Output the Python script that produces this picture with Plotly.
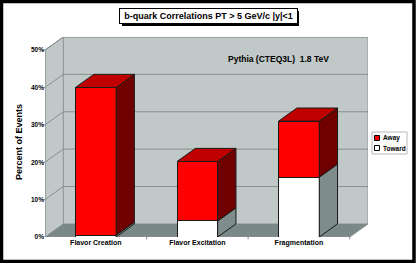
import plotly.graph_objects as go

categories = ["Flavor Creation", "Flavor Excitation", "Fragmentation"]
toward = [0.5, 4.3, 16.0]
away = [39.5, 15.9, 15.0]
series_names = ["Away", "Toward"]
y_ticks = [0, 10, 20, 30, 40, 50]
y_tick_labels = ["0%", "10%", "20%", "30%", "40%", "50%"]

W, H = 416, 263
ML, MR, MT, MB = 45, 48, 37, 26
PW, PH = W - ML - MR, H - MT - MB
DX, DY = 0.18, 3.5           # 3-D depth offset in data units
XMIN, XMAX = -0.5, 2.5 + DX
YMAX = 50 + DY
HW = 0.2                      # half bar width

WALL = "#c0c8c8"
FLOOR = "#7a8888"
RED = "#ff0000"
RED_TOP = "#c00000"
RED_SIDE = "#700000"
WHITE_SIDE = "#7e8c8c"
EDGE = "#1a1a1a"
FONT = "Liberation Sans"

xs = list(range(len(categories)))

fig = go.Figure()
fig.add_trace(go.Bar(x=xs, y=toward, name="Toward", width=2 * HW, showlegend=False,
                     marker=dict(color="white", line=dict(color=EDGE, width=1))))
fig.add_trace(go.Bar(x=xs, y=away, name="Away", width=2 * HW, showlegend=False,
                     marker=dict(color=RED, line=dict(color=EDGE, width=1))))

def px_x(p): return (p - ML) / PW
def px_y(p): return (H - MB - p) / PH

shapes = []
def poly(pts, fill, line=None, layer="below", lw=1):
    d = "M " + " L ".join(f"{x},{y}" for x, y in pts) + " Z"
    shapes.append(dict(type="path", path=d, xref="x", yref="y", fillcolor=fill,
                       line=dict(color=line if line else fill, width=lw if line else 0),
                       layer=layer))
def seg(x0, y0, x1, y1, color="#8a9090", lw=1, layer="below", xref="x", yref="y"):
    shapes.append(dict(type="line", x0=x0, y0=y0, x1=x1, y1=y1, xref=xref, yref=yref,
                       line=dict(color=color, width=lw), layer=layer))
def prect(x0, y0, x1, y1, fill, line=None, lw=1):
    shapes.append(dict(type="rect", xref="paper", yref="paper",
                       x0=px_x(x0), x1=px_x(x1), y0=px_y(y0), y1=px_y(y1),
                       fillcolor=fill, line=dict(color=line or fill, width=lw if line else 0),
                       layer="above"))

# walls and floor
poly([(XMIN + DX, DY), (XMAX, DY), (XMAX, YMAX), (XMIN + DX, YMAX)], WALL, "#909898")
poly([(XMIN, 0), (XMIN + DX, DY), (XMIN + DX, YMAX), (XMIN, 50)], WALL, "#909898")
poly([(XMIN, 0), (2.5, 0), (XMAX, DY), (XMIN + DX, DY)], FLOOR)
# gridlines
for v in y_ticks[1:]:
    seg(XMIN, v, XMIN + DX, v + DY)
    seg(XMIN + DX, v + DY, XMAX, v + DY)
# front axes
seg(XMIN, 0, XMIN, 50, "#8a9090")
seg(XMIN, 0, 2.5, 0, "#8a9090")
seg(2.5, 0, XMAX, DY, "#8a9090")
for b in [0.5, 1.5, 2.5]:
    shapes.append(dict(type="line", x0=b, x1=b, y0=0, y1=-0.012, xref="x", yref="paper",
                       line=dict(color="#8a9090", width=1), layer="below"))
for v in y_ticks:
    shapes.append(dict(type="line", x0=-0.01, x1=0, y0=v, y1=v, xref="paper", yref="y",
                       line=dict(color="#8a9090", width=1), layer="below"))

# 3-D faces of the bars
for i, c in enumerate(xs):
    base = 0
    segs = [(toward[i], "white", WHITE_SIDE), (away[i], RED, RED_SIDE)]
    for k, (h, col, side) in enumerate(segs):
        t = base + h
        poly([(c + HW, base), (c + HW + DX, base + DY), (c + HW + DX, t + DY), (c + HW, t)],
             side, EDGE, layer="above")
        if k == len(segs) - 1:
            poly([(c - HW, t), (c + HW, t), (c + HW + DX, t + DY), (c - HW + DX, t + DY)],
                 RED_TOP, EDGE, layer="above")
        base = t

# title shadow
prect(122, 11, 299, 26, "black")

# manual legend
prect(372, 132, 407, 154, "white", "#b8b8b8", 1)
legend_colors = {"Away": RED, "Toward": "white"}
annotations = []
for j, nm in enumerate(series_names):
    yc = 138 + j * 10
    prect(374.5, yc - 2.5, 379.5, yc + 2.5, legend_colors[nm], "black", 1)
    annotations.append(dict(text="<b>" + nm + "</b>", xref="paper", yref="paper",
                            x=px_x(380.5), y=px_y(yc), xanchor="left", yanchor="middle",
                            showarrow=False, font=dict(family=FONT, size=6.5, color="black")))

# outer frame
shapes.append(dict(type="rect", xref="paper", yref="paper",
                   x0=px_x(1.5), x1=px_x(W - 2), y0=px_y(1.5), y1=px_y(H - 1.5),
                   line=dict(color="black", width=3.5), fillcolor="rgba(0,0,0,0)", layer="above"))

title = "b-quark Correlations PT > 5 GeV/c |y|<1"
annotations += [
    dict(text="<b>" + title + "</b>", xref="paper", yref="paper", x=px_x(208.5), y=px_y(16.5),
         xanchor="center", yanchor="middle",
         showarrow=False, font=dict(family=FONT, size=9, color="black"), bgcolor="white",
         bordercolor="black", borderwidth=1, borderpad=1, width=175, height=12),
    dict(text="<b>Pythia (CTEQ3L)  1.8 TeV</b>", xref="paper", yref="paper",
         x=px_x(278), y=px_y(59), xanchor="center", yanchor="middle",
         showarrow=False, font=dict(family=FONT, size=8.5, color="black")),
    dict(text="<b>Percent of Events</b>", xref="paper", yref="paper", x=px_x(19), y=px_y(142),
         xanchor="center", yanchor="middle",
         textangle=-90, showarrow=False, font=dict(family=FONT, size=9, color="black")),
]

fig.update_layout(
    width=W, height=H, margin=dict(l=ML, r=MR, t=MT, b=MB, autoexpand=False),
    barmode="stack", paper_bgcolor="white", plot_bgcolor="white", showlegend=False,
    font=dict(family=FONT, size=7, color="black"),
    xaxis=dict(range=[XMIN, XMAX], tickvals=xs,
               ticktext=[f"<b>{c}</b>" for c in categories],
               showgrid=False, zeroline=False, showline=False, ticks="", ticklen=0,
               tickfont=dict(size=7)),
    yaxis=dict(range=[0, YMAX], tickvals=y_ticks,
               ticktext=[f"<b>{t}</b>" for t in y_tick_labels],
               showgrid=False, zeroline=False, showline=False, ticks="", ticklen=0,
               tickfont=dict(size=6.5)),
    shapes=shapes, annotations=annotations, bargap=0.6,
)
fig.write_html("out.html", config={"displayModeBar": False},
               post_script="document.body.style.margin='0';document.body.style.overflow='hidden';")
